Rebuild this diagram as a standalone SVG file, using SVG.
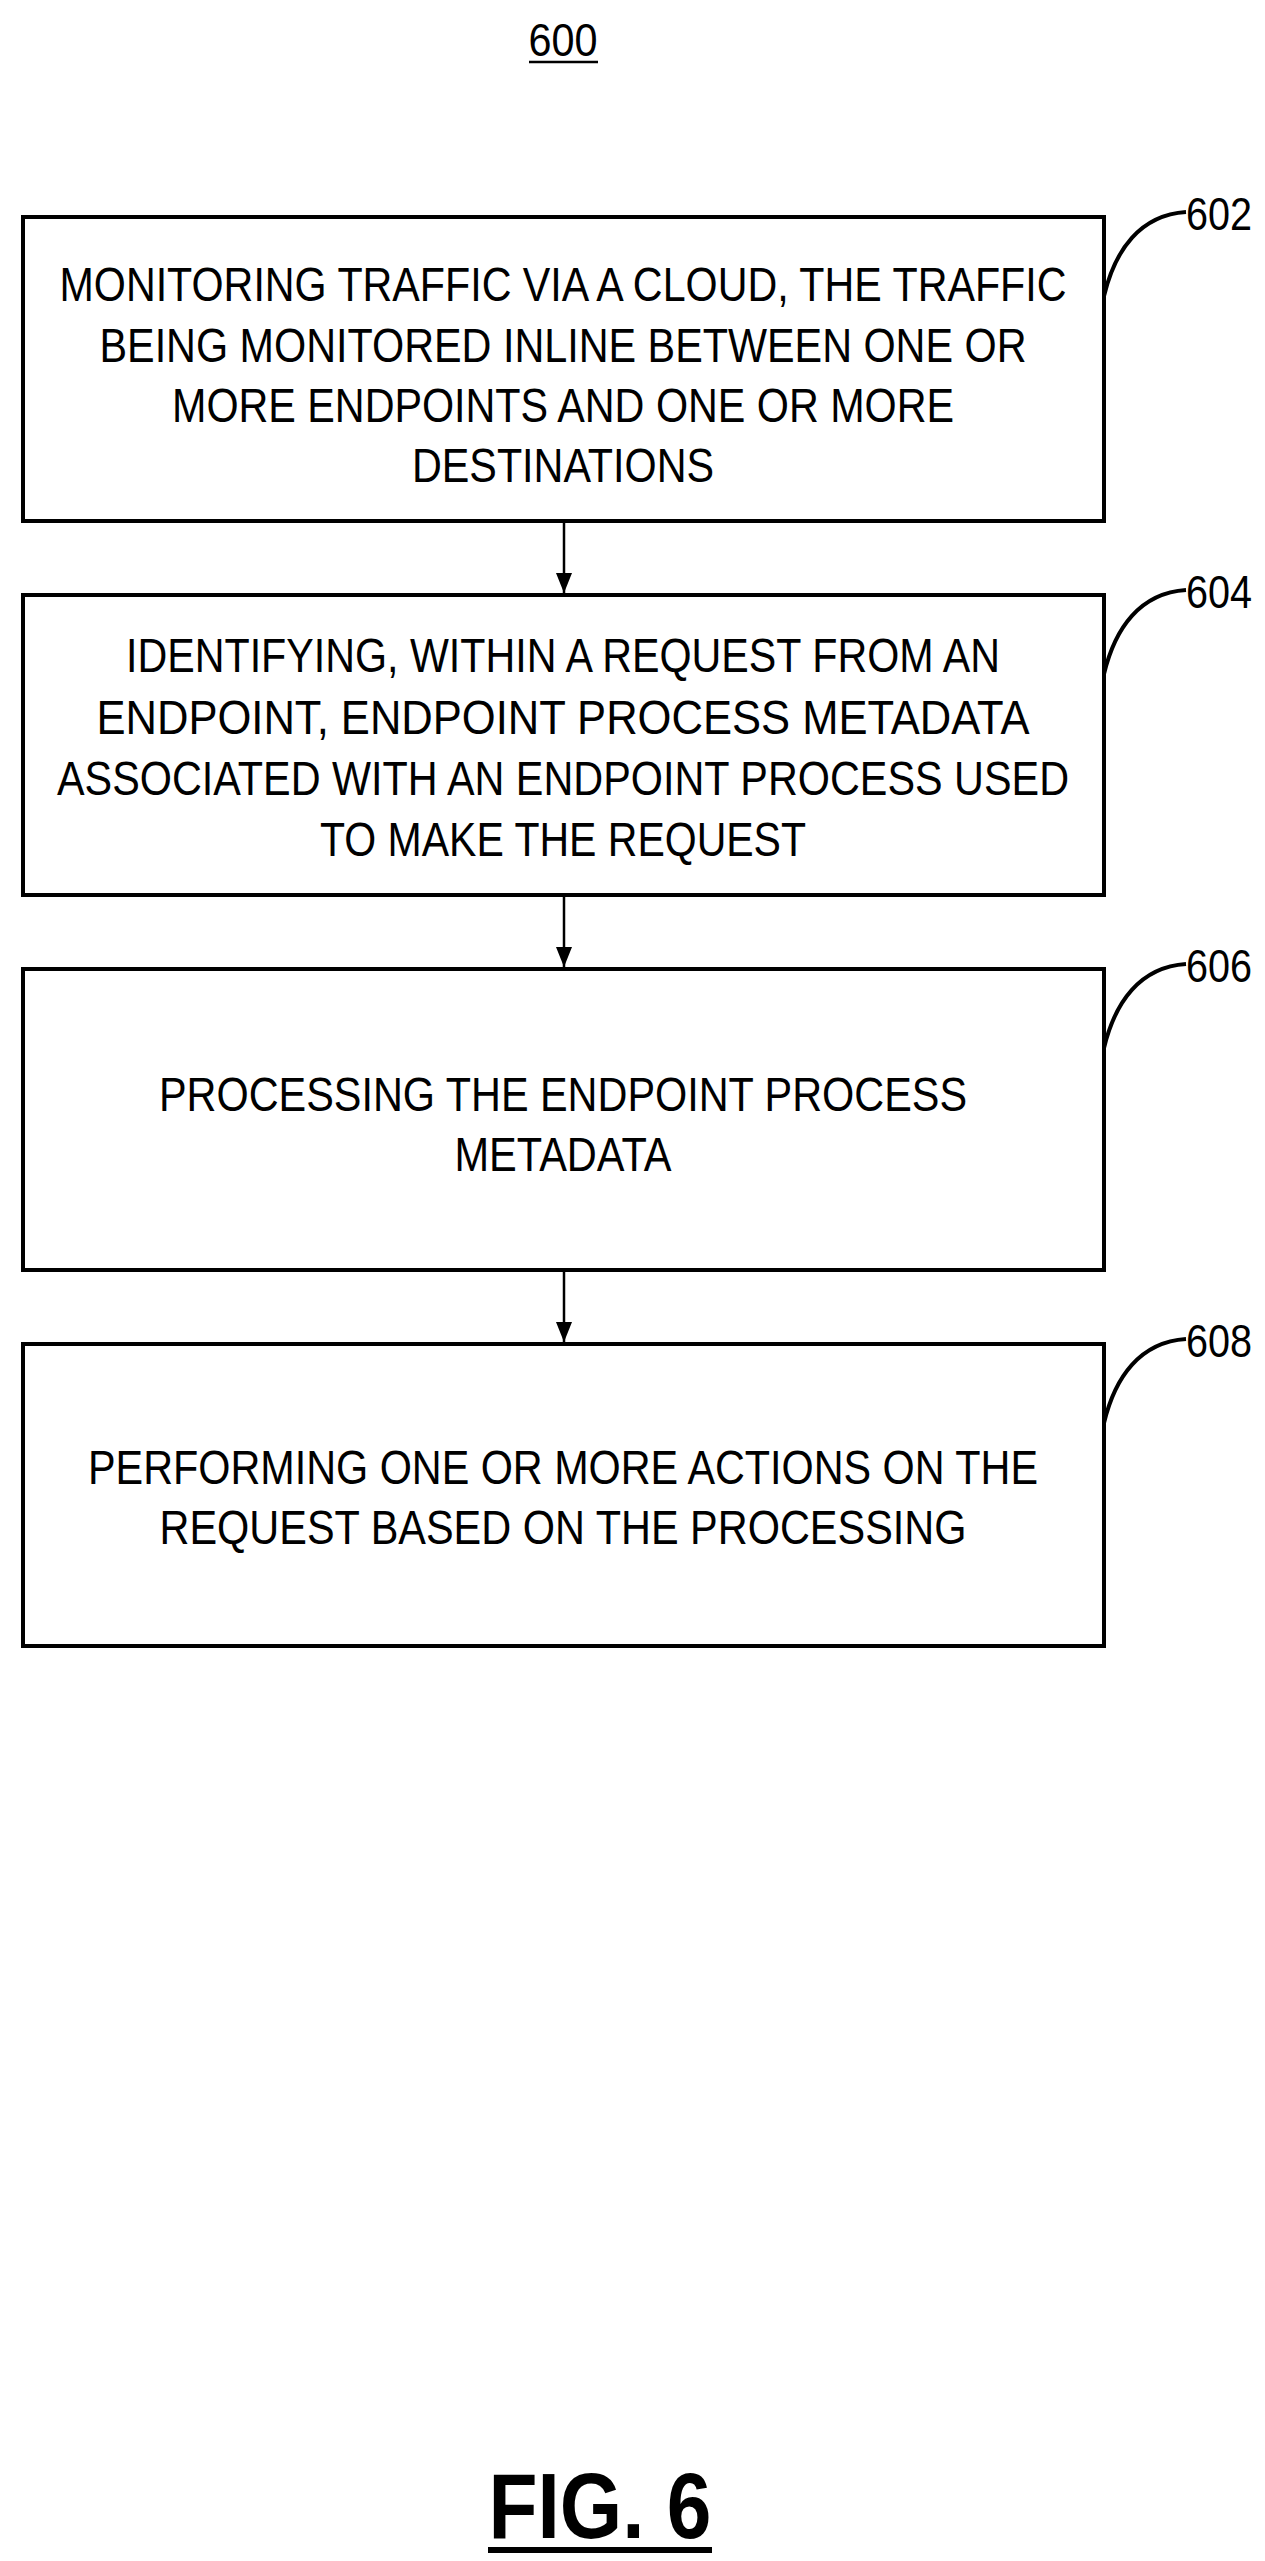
<svg xmlns="http://www.w3.org/2000/svg" width="1265" height="2561" viewBox="0 0 1265 2561">
<style>
.box{fill:#fff;stroke:#000;stroke-width:4}
.t{font-family:"Liberation Sans",Arial,sans-serif;font-size:48px;fill:#000;text-anchor:middle}
.r{font-family:"Liberation Sans",Arial,sans-serif;font-size:46px;fill:#000}
.ld{fill:none;stroke:#000;stroke-width:4}
.c{stroke:#000;stroke-width:2.5;fill:none}
</style>
<defs><marker id="ah" markerWidth="10" markerHeight="12" refX="9" refY="6" orient="auto" markerUnits="userSpaceOnUse" viewBox="0 0 10 12"><path d="M0,0 L10,6 L0,12 Z" fill="#000"/></marker>
<marker id="a" viewBox="0 0 20 20" refX="20" refY="10" markerWidth="20" markerHeight="20" markerUnits="userSpaceOnUse" orient="auto"><path d="M0,2 L20,10 L0,18 Z" fill="#000"/></marker></defs>
<text class="r" x="563" y="56" text-anchor="middle" font-size="40" textLength="69" lengthAdjust="spacingAndGlyphs">600</text>
<line x1="529" y1="62" x2="598" y2="62" stroke="#000" stroke-width="2.5"/>
<g id="n602">
<rect class="box" x="23" y="217" width="1081" height="304"/>
<text class="t" x="563" y="301" textLength="1007" lengthAdjust="spacingAndGlyphs">MONITORING TRAFFIC VIA A CLOUD, THE TRAFFIC</text>
<text class="t" x="563" y="362" textLength="927" lengthAdjust="spacingAndGlyphs">BEING MONITORED INLINE BETWEEN ONE OR</text>
<text class="t" x="563" y="422" textLength="782" lengthAdjust="spacingAndGlyphs">MORE ENDPOINTS AND ONE OR MORE</text>
<text class="t" x="563" y="482" textLength="302" lengthAdjust="spacingAndGlyphs">DESTINATIONS</text>
<path class="ld" d="M1104,296 C1115,250 1140,215 1186,212"/>
<text class="r" x="1186" y="230" textLength="66" lengthAdjust="spacingAndGlyphs">602</text>
</g>
<g id="n604">
<rect class="box" x="23" y="595" width="1081" height="300"/>
<text class="t" x="563" y="672" textLength="874" lengthAdjust="spacingAndGlyphs">IDENTIFYING, WITHIN A REQUEST FROM AN</text>
<text class="t" x="563" y="734" textLength="933" lengthAdjust="spacingAndGlyphs">ENDPOINT, ENDPOINT PROCESS METADATA</text>
<text class="t" x="563" y="795" textLength="1012" lengthAdjust="spacingAndGlyphs">ASSOCIATED WITH AN ENDPOINT PROCESS USED</text>
<text class="t" x="563" y="856" textLength="486" lengthAdjust="spacingAndGlyphs">TO MAKE THE REQUEST</text>
<path class="ld" d="M1104,674 C1115,628 1140,593 1186,590"/>
<text class="r" x="1186" y="608" textLength="66" lengthAdjust="spacingAndGlyphs">604</text>
</g>
<g id="n606">
<rect class="box" x="23" y="969" width="1081" height="301"/>
<text class="t" x="563" y="1111" textLength="808" lengthAdjust="spacingAndGlyphs">PROCESSING THE ENDPOINT PROCESS</text>
<text class="t" x="563" y="1171" textLength="217" lengthAdjust="spacingAndGlyphs">METADATA</text>
<path class="ld" d="M1104,1048 C1115,1002 1140,967 1186,964"/>
<text class="r" x="1186" y="982" textLength="66" lengthAdjust="spacingAndGlyphs">606</text>
</g>
<g id="n608">
<rect class="box" x="23" y="1344" width="1081" height="302"/>
<text class="t" x="563" y="1484" textLength="950" lengthAdjust="spacingAndGlyphs">PERFORMING ONE OR MORE ACTIONS ON THE</text>
<text class="t" x="563" y="1544" textLength="807" lengthAdjust="spacingAndGlyphs">REQUEST BASED ON THE PROCESSING</text>
<path class="ld" d="M1104,1423 C1115,1377 1140,1342 1186,1339"/>
<text class="r" x="1186" y="1357" textLength="66" lengthAdjust="spacingAndGlyphs">608</text>
</g>
<g id="connectors">
<line class="c" x1="564" y1="523" x2="564" y2="593" marker-end="url(#a)"/>
<line class="c" x1="564" y1="897" x2="564" y2="967" marker-end="url(#a)"/>
<line class="c" x1="564" y1="1272" x2="564" y2="1342" marker-end="url(#a)"/>
</g>
<text x="600" y="2538" font-family="'Liberation Sans',Arial,sans-serif" font-weight="bold" font-size="92" text-anchor="middle" textLength="223" lengthAdjust="spacingAndGlyphs">FIG. 6</text>
<line x1="488" y1="2550" x2="712" y2="2550" stroke="#000" stroke-width="6"/>
</svg>
